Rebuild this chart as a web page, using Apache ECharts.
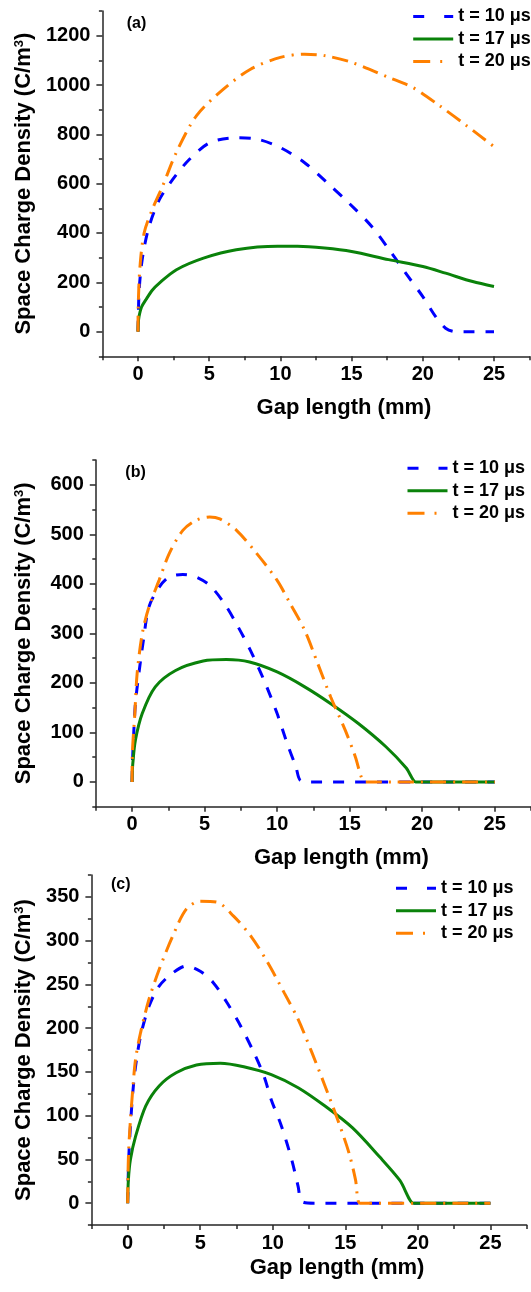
<!DOCTYPE html>
<html>
<head>
<meta charset="utf-8">
<script src="https://cdn.jsdelivr.net/npm/echarts@6/dist/echarts.min.js"></script>
<style>
html,body{margin:0;padding:0;background:#fff;}
#chart{width:531px;height:1292px;}
</style>
</head>
<body>
<div id="chart"></div>
<script>
// ---------- data ----------
const seriesNames = ['t = 10 μs', 't = 17 μs', 't = 20 μs'];
const panelLabels = ['(a)', '(b)', '(c)'];
const xAxisName = 'Gap length (mm)';
const yAxisName = 'Space Charge Density (C/m{sup|3})';

// panel (a)
const aX10 = [0, 0.03, 0.07, 0.2, 0.4, 0.78, 1.5, 2.44, 3.6, 5.05, 6.9, 8.4, 10, 11.7, 13.3, 14.8, 16.4, 17.8, 18.8, 20, 20.9, 21.6, 22.3, 23, 25];
const aY10 = [0, 80, 156, 250, 330, 427, 535, 617, 698, 766, 786, 780, 746, 685, 603, 522, 427, 319, 237, 142, 61, 14, 0, 0, 0];
const aX17 = [0, 0.02, 0.07, 0.25, 0.55, 1.0, 1.5, 2.7, 4.6, 6.9, 9.8, 11.2, 13.1, 15, 17.6, 20, 21.6, 23.5, 25];
const aY17 = [0, 35, 61, 100, 129, 168, 197, 251, 298, 332, 346, 346, 339, 325, 292, 264, 237, 203, 183];
const aX20 = [0, 0.02, 0.14, 0.43, 1.0, 1.73, 2.68, 4.1, 6, 7.9, 10, 11.7, 13.1, 15, 17.6, 19.3, 21.2, 23.1, 25];
const aY20 = [0, 115, 264, 400, 495, 590, 725, 875, 983, 1064, 1112, 1125, 1119, 1092, 1031, 990, 915, 834, 750];

// panel (b)
const bX10 = [0, 0.03, 0.07, 0.23, 0.47, 0.81, 1.16, 1.86, 2.56, 3.5, 4.4, 5.35, 6.3, 7.2, 8.15, 9.1, 10, 10.7, 11.3, 11.6, 12.3, 13, 25];
const bY10 = [0, 40, 71, 158, 219, 292, 353, 393, 414, 419, 414, 397, 363, 319, 266, 205, 138, 77, 30, 3, 0, 0, 0];
const bX17 = [0, 0.02, 0.05, 0.23, 0.7, 1.6, 3, 4.9, 6.5, 8.1, 10, 11.9, 13.7, 15.6, 17.5, 18.9, 19.55, 19.6, 25];
const bY17 = [0, 20, 37, 84, 138, 192, 225, 244, 247, 242, 222, 192, 158, 118, 71, 28, 0, 0, 0];
const bX20 = [0, 0.02, 0.19, 0.35, 0.7, 1.16, 1.86, 2.56, 3.5, 4.4, 5.35, 6.05, 7.2, 8.6, 10, 10.9, 11.9, 12.8, 13.7, 14.7, 15.4, 15.8, 16.06, 16.8, 25];
const bY20 = [0, 57, 138, 219, 299, 353, 407, 461, 508, 528, 535, 531, 508, 461, 407, 360, 306, 239, 171, 104, 50, 10, 0, 0, 0];

// panel (c)
const cX10 = [0, 0.07, 0.19, 0.35, 0.54, 0.89, 1.47, 2.17, 3.1, 4.04, 5, 5.9, 6.85, 7.8, 8.7, 9.4, 9.9, 10.6, 11.3, 11.75, 12, 12.9, 13.6, 25];
const cY10 = [0, 50, 88, 126, 156, 191, 225, 248, 263, 271, 265, 252, 229, 202, 172, 145, 118, 88, 50, 19, 2, 0, 0, 0];
const cX17 = [0, 0.05, 0.19, 0.54, 1.24, 2.17, 3.34, 4.74, 6.38, 8, 9.9, 11.75, 13.6, 15.5, 17.36, 18.76, 19.7, 19.75, 25];
const cY17 = [0, 27, 50, 76, 111, 134, 149, 158, 160, 156, 147, 132, 111, 86, 53, 26, 0, 0, 0];
const cX20 = [0, 0.02, 0.07, 0.19, 0.35, 0.54, 0.89, 1.47, 2.17, 3.1, 4.04, 5, 6.14, 7.3, 8.5, 9.65, 10.8, 11.75, 12.7, 13.6, 14.55, 15.26, 15.7, 16, 16.7, 25];
const cY20 = [0, 31, 61, 95, 130, 164, 195, 233, 267, 305, 336, 345, 344, 328, 305, 275, 240, 210, 172, 134, 92, 57, 27, 0, 0, 0];

// ticks
const xMajor = [0, 5, 10, 15, 20, 25];
const xMinor = [-2.5, 2.5, 7.5, 12.5, 17.5, 22.5, 27.5];
const aYMajor = [0, 200, 400, 600, 800, 1000, 1200];
const aYMinor = [-100, 100, 300, 500, 700, 900, 1100, 1300];
const bYMajor = [0, 100, 200, 300, 400, 500, 600];
const bYMinor = [-50, 50, 150, 250, 350, 450, 550, 650];
const cYMajor = [0, 50, 100, 150, 200, 250, 300, 350];
const cYMinor = [-25, 25, 75, 125, 175, 225, 275, 325, 375];

// ---------- layout / style ----------
const FONT = '"Liberation Sans", Arial, Helvetica, sans-serif';
const AXIS_COLOR = '#262626';
const colors = ['#0000ff', '#0a820a', '#ff8000'];
const dashTypes = [[11, 11], 'solid', [16, 7, 2, 7]];

const panels = [
  {xs: [aX10, aX17, aX20], ys: [aY10, aY17, aY20], yMin: -100, yMax: 1300, yMajor: aYMajor, yMinor: aYMinor,
   grid: {left: 102.4, top: 11, width: 427.2, height: 345.3}, yGap: 60, xGap: 41,
   legend: {left: 411.7, top: 7.5}, label: {x: 126.7, y: 25}},
  {xs: [bX10, bX17, bX20], ys: [bY10, bY17, bY20], yMin: -50, yMax: 650, yMajor: bYMajor, yMinor: bYMinor,
   grid: {left: 95.8, top: 460, width: 436.4, height: 346.7}, yGap: 61, xGap: 40,
   legend: {left: 406, top: 459.3}, label: {x: 125.3, y: 474}},
  {xs: [cX10, cX17, cX20], ys: [cY10, cY17, cY20], yMin: -25, yMax: 375, yMajor: cYMajor, yMinor: cYMinor,
   grid: {left: 91.4, top: 875, width: 435.3, height: 350.1}, yGap: 55, xGap: 32,
   legend: {left: 394.5, top: 879.3}, label: {x: 111, y: 886}}
];

const grids = [], xAxes = [], yAxes = [], series = [], legends = [], graphics = [];
const plain = v => String(v);

panels.forEach((p, i) => {
  grids.push(Object.assign({containLabel: false}, p.grid));
  const baseX = {type: 'value', gridIndex: i, min: -2.5, max: 27.5, splitLine: {show: false}};
  const baseY = {type: 'value', gridIndex: i, min: p.yMin, max: p.yMax, splitLine: {show: false}};
  xAxes.push(Object.assign({}, baseX, {
    position: 'bottom',
    axisLine: {show: true, onZero: false, lineStyle: {color: AXIS_COLOR, width: 1.5}},
    axisTick: {show: true, inside: false, length: 5, customValues: xMajor, lineStyle: {color: AXIS_COLOR, width: 1.5}},
    axisLabel: {show: true, customValues: xMajor, formatter: plain, margin: 8, color: '#000', fontSize: 20, fontWeight: 'bold', fontFamily: FONT},
    name: xAxisName, nameLocation: 'middle', nameGap: p.xGap,
    nameTextStyle: {color: '#000', fontSize: 22, fontWeight: 'bold', fontFamily: FONT, padding: [0, 0, 0, 56]}
  }));
  xAxes.push(Object.assign({}, baseX, {
    position: 'bottom',
    axisLine: {show: false, onZero: false},
    axisTick: {show: true, inside: false, length: 4, customValues: xMinor, lineStyle: {color: AXIS_COLOR, width: 1.5}},
    axisLabel: {show: false}
  }));
  yAxes.push(Object.assign({}, baseY, {
    position: 'left',
    axisLine: {show: true, onZero: false, lineStyle: {color: AXIS_COLOR, width: 1.5}},
    axisTick: {show: true, inside: false, length: 6, customValues: p.yMajor, lineStyle: {color: AXIS_COLOR, width: 1.5}},
    axisLabel: {show: true, customValues: p.yMajor, formatter: plain, margin: 12, color: '#000', fontSize: 20, fontWeight: 'bold', fontFamily: FONT},
    name: yAxisName, nameLocation: 'middle', nameGap: p.yGap,
    nameTextStyle: {color: '#000', fontSize: 22, fontWeight: 'bold', fontFamily: FONT,
      rich: {sup: {fontSize: 13, fontWeight: 'bold', fontFamily: FONT, color: '#000', verticalAlign: 'top', padding: [0, 0, 8, 0]}}}
  }));
  yAxes.push(Object.assign({}, baseY, {
    position: 'left',
    axisLine: {show: false, onZero: false},
    axisTick: {show: true, inside: false, length: 3.5, customValues: p.yMinor, lineStyle: {color: AXIS_COLOR, width: 1.5}},
    axisLabel: {show: false}
  }));

  for (let k = 0; k < 3; k++) {
    series.push({
      name: seriesNames[k], type: 'line',
      xAxisIndex: 2 * i, yAxisIndex: 2 * i,
      data: p.xs[k].map((x, j) => [x, p.ys[k][j]]),
      symbol: 'none', smooth: 0.3,
      lineStyle: {color: colors[k], width: 3, type: dashTypes[k], cap: 'butt'},
      itemStyle: {color: colors[k]},
      z: 2 + k, silent: true
    });
  }

  legends.push({
    orient: 'vertical', left: p.legend.left, top: p.legend.top, padding: 0,
    itemWidth: 40, itemHeight: 14, itemGap: 4.5, selectedMode: false,
    textStyle: {color: '#000', fontSize: 18, fontWeight: 'bold', fontFamily: FONT, lineHeight: 18},
    itemStyle: {opacity: 0},
    lineStyle: {width: 3},
    data: [
      {name: seriesNames[0], lineStyle: {type: [11, 20]}},
      {name: seriesNames[1]},
      {name: seriesNames[2], lineStyle: {type: [17, 10, 2, 30]}}
    ]
  });

  graphics.push({
    type: 'text', left: p.label.x, top: p.label.y - 9,
    style: {text: panelLabels[i], fill: '#000', font: 'bold 16px ' + FONT}
  });
});

const chart = echarts.init(document.getElementById('chart'), null, {renderer: 'canvas'});
chart.setOption({
  animation: false,
  backgroundColor: '#ffffff',
  grid: grids,
  xAxis: xAxes,
  yAxis: yAxes,
  legend: legends,
  series: series,
  graphic: graphics
});
</script>
</body>
</html>
